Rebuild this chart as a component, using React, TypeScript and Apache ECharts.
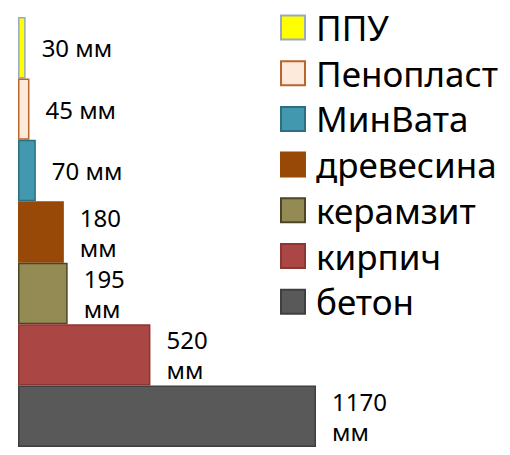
import React, { useEffect, useRef } from "react";
import * as echarts from "echarts";

const categories = ["ППУ", "Пенопласт", "МинВата", "древесина", "керамзит", "кирпич", "бетон"];
const values = [30, 45, 70, 180, 195, 520, 1170];
const fillColors = ["#FFFF00", "#FDEADA", "#4198AF", "#984807", "#948A54", "#AA4643", "#595959"];
const borderColors = ["#9AA8C2", "#B9662E", "#2D6E80", "#984807", "#4A4526", "#8C3633", "#3F3F3F"];
const unit = "мм";

export default function App() {
  const ref = useRef<HTMLDivElement>(null);
  useEffect(() => {
    document.body.style.margin = "0";
    const chart = echarts.init(ref.current!, null, { renderer: "svg" });
    const series = categories.map((name, i) => ({
      name,
      type: "bar",
      stack: "total",
      barWidth: "100%",
      data: categories.map((_, j) => (j === i ? values[i] : "-")),
      itemStyle: {
        color: fillColors[i],
        borderColor: borderColors[i],
        borderWidth: 1.5,
      },
      label: {
        show: true,
        position: "right",
        distance: 16,
        fontFamily: "Noto Sans",
        fontSize: 24,
        lineHeight: 30,
        color: "#000",
        formatter: (p: any) => (p.value >= 100 ? `${p.value}\n${unit}` : `${p.value} ${unit}`),
      },
    }));
    chart.setOption({
      animation: false,
      grid: { left: 18, top: 17, width: 298, height: 430 },
      xAxis: { type: "value", min: 0, max: 1170, show: false },
      yAxis: { type: "category", data: categories, inverse: true, show: false },
      legend: {
        orient: "vertical",
        left: 280,
        top: 10,
        padding: 0,
        itemWidth: 24,
        itemHeight: 24,
        itemGap: 10.7,
        icon: "rect",
        data: categories,
        textStyle: {
          fontFamily: "Noto Sans",
          fontSize: 35,
          lineHeight: 34,
          color: "#000",
          padding: [0, 0, 0, 6],
        },
      },
      series,
    });
    return () => chart.dispose();
  }, []);
  return <div ref={ref} style={{ width: 510, height: 455 }} />;
}
